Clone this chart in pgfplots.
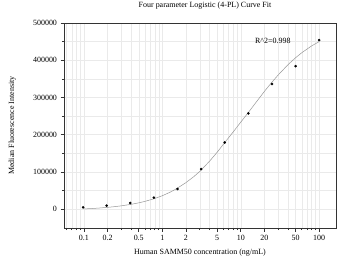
\documentclass[border=0pt]{standalone}
\usepackage{fontspec}
\setmainfont{Liberation Serif}
\usepackage{pgfplots}
\pgfplotsset{compat=1.18}
\definecolor{gridc}{RGB}{234,234,234}
\definecolor{curvec}{RGB}{150,150,150}
\begin{document}
\begin{tikzpicture}
\begin{axis}[
  scale only axis,
  width=272bp, height=205bp,
  xmode=log,
  xmin=0.0557, xmax=164,
  ymin=-51000, ymax=500000,
  font=\fontsize{8}{9.5}\selectfont,
  /pgf/number format/assume math mode=true,
  scaled y ticks=false,
  yticklabel style={/pgf/number format/fixed, /pgf/number format/1000 sep={}},
  ytick={0,100000,200000,300000,400000,500000},
  minor ytick={50000,150000,250000,350000,450000},
  xtick={0.1,0.2,0.5,1,2,5,10,20,50,100},
  xticklabels={0.1,0.2,0.5,1,2,5,10,20,50,100},
  minor xtick={0.06,0.07,0.08,0.09,0.3,0.4,0.6,0.7,0.8,0.9,3,4,6,7,8,9,30,40,60,70,80,90},
  log basis x=10,
  tick align=outside,
  xtick pos=bottom, ytick pos=left,
  major tick length=3.5bp, minor tick length=2bp,
  grid=both,
  major grid style={gridc, line width=0.4pt},
  minor grid style={gridc, line width=0.4pt},
  axis line style={black!80, line width=0.8pt},
  tick style={black!80, line width=0.6pt},
  title={Four parameter Logistic (4-PL) Curve Fit},
  title style={at={(axis description cs:0.5,1)}, anchor=south, yshift=4bp, xshift=5bp},
  xlabel={Human SAMM50 concentration (ng/mL)},
  ylabel={Median Fluorescence Intensity},
  xlabel style={at={(axis description cs:0.5,0)}, anchor=north, yshift=-17bp},
  ylabel style={at={(axis description cs:-0.19,0.5)}, anchor=center},
  clip=false,
]
\coordinate (sw) at (rel axis cs:0,0);
\coordinate (ne) at (rel axis cs:1,1);
\addplot[curvec, line width=0.5pt] coordinates {
(0.1,262) (0.125,1316) (0.15,2366) (0.2,4453) (0.25,6522) (0.3,8575)
(0.4,12629) (0.5,16617) (0.6,20541) (0.8,28203) (1,35800) (1.25,45000)
(1.5,54000) (2,71000) (2.5,86500) (3,101000) (4,128500) (5,152500)
(6,174000) (8,207000) (10,233500) (12.5,259500) (15,281500) (20,316000)
(25,341000) (30,360219) (40,387893) (50,406613) (60,420119) (80,438305)
(100,449984)
};
\addplot[only marks, mark=*, mark size=1.1pt, black] coordinates {
(0.0977,4500) (0.195,9000) (0.39,16000) (0.78,30500) (1.5625,54000)
(3.125,107500) (6.25,179000) (12.5,257000) (25,336000) (50,384000) (100,454000)
};
\node[font=\fontsize{8}{9.5}\selectfont] at (axis cs:25.7,452000) {R\textasciicircum{}2=0.998};
\end{axis}
\pgfresetboundingbox
\path ([shift={(-64bp,-38bp)}]sw) rectangle ([shift={(1bp,23bp)}]ne);
\end{tikzpicture}
\end{document}
